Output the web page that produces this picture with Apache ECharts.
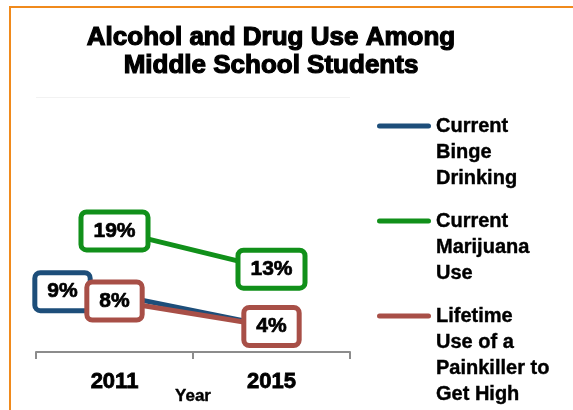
<!DOCTYPE html>
<html><head><meta charset="utf-8">
<script src="https://cdn.jsdelivr.net/npm/echarts@6/dist/echarts.min.js"></script>
<style>html,body{margin:0;padding:0;background:#fff}#c{width:573px;height:410px}</style>
</head><body><div id="c"></div>
<script>
const years = ['2011', '2015'];
const bingeDrinking = [9, 4];
const marijuanaUse = [19, 13];
const painkillerUse = [8, 4];
const seriesNames = ['Current\nBinge\nDrinking', 'Current\nMarijuana\nUse', 'Lifetime\nUse of a\nPainkiller to\nGet High'];
const colors = ['#1d4e7a', '#11901a', '#a84f47'];

const chart = echarts.init(document.getElementById('c'));
const FONT = 'Liberation Sans, Arial, sans-serif';
function lbl(color) {
  return {
    show: true, position: ['50%', '50%'], align: 'center', verticalAlign: 'middle', formatter: '{c}%',
    fontFamily: FONT, fontSize: 21, fontWeight: 'bold', color: '#000',
    textBorderColor: '#000', textBorderWidth: 0.7,
    backgroundColor: '#fff', borderColor: color, borderWidth: 5, borderRadius: 3,
    padding: [7, 10, 5, 10]
  };
}
const iconPath = (h) => 'path://M0,0 M54,' + h + ' M2.5,10.5 L51.5,10.5 A2.5,2.5 0 0 1 51.5,15.5 L2.5,15.5 A2.5,2.5 0 0 1 2.5,10.5 Z';
const legendText = { fontFamily: FONT, fontSize: 20, fontWeight: 'bold', color: '#000', lineHeight: 26, textBorderColor: '#000', textBorderWidth: 0.4 };
function mkLegend(i, top, lines) {
  return {
    orient: 'vertical', left: 377, top: top, itemWidth: 54, itemHeight: lines * 26,
    itemGap: 0, padding: 0, selectedMode: false, data: [{ name: seriesNames[i], icon: iconPath(lines * 26) }],
    itemStyle: { color: colors[i], opacity: 1, borderWidth: 0 }, lineStyle: { width: 0 }, textStyle: legendText, itemTextGap: 3
  };
}
chart.setOption({
  animation: false,
  graphic: [{ type: 'rect', shape: { x: 10, y: 7, width: 700, height: 500 }, style: { fill: 'none', stroke: '#f08a1c', lineWidth: 2 }, silent: true }],
  title: {
    text: 'Alcohol and Drug Use Among\nMiddle School Students', left: 266, top: 19,
    textAlign: 'center',
    textStyle: { fontFamily: FONT, fontSize: 26, fontWeight: 'bold', color: '#000', lineHeight: 28, textBorderColor: '#000', textBorderWidth: 1.2 }
  },
  legend: [mkLegend(0, 113, 3), mkLegend(1, 208, 3), mkLegend(2, 303, 4)],
  grid: { left: 36, right: 223, top: 97, bottom: 58, containLabel: false, outerBoundsMode: 'none' },
  xAxis: {
    type: 'category', data: years, boundaryGap: true,
    axisLine: { lineStyle: { color: '#8c8c8c', width: 2 } },
    axisTick: { show: true, length: 7, lineStyle: { color: '#8c8c8c', width: 2 } },
    axisLabel: { fontFamily: FONT, fontSize: 22, fontWeight: 'bold', color: '#000', margin: 19, textBorderColor: '#000', textBorderWidth: 0.8 },
    name: 'Year', nameLocation: 'middle', nameGap: 36, nameMoveOverlap: false,
    nameTextStyle: { fontFamily: FONT, fontSize: 17, fontWeight: 'bold', color: '#000', textBorderColor: '#000', textBorderWidth: 0.4 }
  },
  yAxis: {
    type: 'value', min: 0, max: 40, interval: 40,
    axisLine: { show: false }, axisTick: { show: false }, axisLabel: { show: false },
    splitLine: { lineStyle: { color: '#f2f2f2', width: 1 } }
  },
  series: [
    { name: seriesNames[0], type: 'line', data: [ { value: bingeDrinking[0], label: { offset: [-52, -3] } }, { value: bingeDrinking[1], label: { show: false } } ],
      symbol: 'circle', symbolSize: 2, itemStyle: { color: colors[0], borderWidth: 0 }, lineStyle: { color: colors[0], width: 5 }, label: lbl(colors[0]), z: 2 },
    { name: seriesNames[1], type: 'line', data: marijuanaUse,
      symbol: 'circle', symbolSize: 2, itemStyle: { color: colors[1], borderWidth: 0 }, lineStyle: { color: colors[1], width: 5 }, label: lbl(colors[1]), z: 3 },
    { name: seriesNames[2], type: 'line', data: painkillerUse,
      symbol: 'circle', symbolSize: 2, itemStyle: { color: colors[2], borderWidth: 0 }, lineStyle: { color: colors[2], width: 5 }, label: lbl(colors[2]), z: 4 }
  ]
});
</script></body></html>
